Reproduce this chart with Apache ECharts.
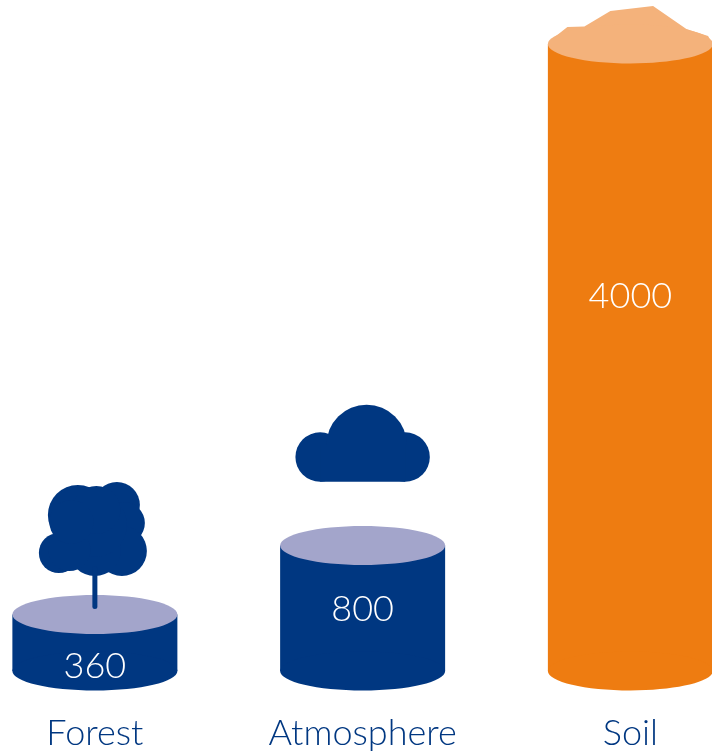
<!DOCTYPE html>
<html>
<head>
<meta charset="utf-8">
<style>html,body{margin:0;padding:0;background:#fff}#chart{width:712px;height:751px}</style>
<script src="https://cdn.jsdelivr.net/npm/echarts@6/dist/echarts.min.js"></script>
</head>
<body>
<div id="chart"></div>
<script>
// Carbon stocks, drawn as one cylinder per reservoir
const categories = ['Forest', 'Atmosphere', 'Soil'];
const stocks = [360, 800, 4000];

const NAVY = '#003781';
const LAVENDER = '#A3A5CB';
const ORANGE = '#EE7C11';
const SAND = '#F4B27B';
const FONT = 'Lato, "Open Sans", sans-serif';

const bodyColors = [NAVY, NAVY, ORANGE];
const capColors = [LAVENDER, LAVENDER, SAND];
const RX = 82.5, RY = 19.5;

// Heights above the base line where each value sits inside its cylinder
const valueLift = [5, 62, 375];

// Decorations placed relative to the foot of their cylinder
function treeShapes(x, base) {
  const blobs = [[22, -166, 23], [-17, -156, 30], [29, -148, 21], [27, -120, 25],
                 [-36, -118, 20], [0, -121, 26], [0, -146, 32],
                 [1.5, -161, 24], [-25.5, -121, 21], [-23.5, -149, 22]];
  const shapes = blobs.map(b => ({
    type: 'circle', shape: {cx: x + b[0], cy: base + b[1], r: b[2]}, style: {fill: NAVY}
  }));
  shapes.push({
    type: 'rect', shape: {x: x - 2.5, y: base - 105, width: 5, height: 43, r: 2.5}, style: {fill: NAVY}
  });
  return shapes;
}

function cloudShapes(x, base) {
  return [
    {type: 'circle', shape: {cx: x - 42.5, cy: base - 214, r: 24.7}, style: {fill: NAVY}},
    {type: 'circle', shape: {cx: x + 42.5, cy: base - 214, r: 24.7}, style: {fill: NAVY}},
    {type: 'sector', shape: {cx: x + 4, cy: base - 226, r: 40.2, startAngle: Math.PI, endAngle: 2 * Math.PI}, style: {fill: NAVY}},
    {type: 'rect', shape: {x: x - 42.5, y: base - 226, width: 85, height: 36.7}, style: {fill: NAVY}}
  ];
}

function moundShape(x, top) {
  const outline = [[-82, -2], [-63, -17], [-46, -17.3], [-20, -33], [22.7, -38],
                   [56, -15], [77.7, -8], [82, 0]];
  return {
    type: 'polygon',
    shape: {points: outline.map(p => [x + p[0], top + p[1]])},
    style: {fill: SAND}
  };
}

function renderCylinder(params, api) {
  const i = params.dataIndex;
  const head = api.coord([api.value(0), api.value(1)]);
  const foot = api.coord([api.value(0), 0]);
  const x = head[0], top = head[1], base = foot[1];
  const children = [
    {type: 'rect', shape: {x: x - RX, y: top, width: RX * 2, height: base - top}, style: {fill: bodyColors[i]}},
    {type: 'ellipse', shape: {cx: x, cy: base, rx: RX, ry: RY}, style: {fill: bodyColors[i]}}
  ];
  if (i === 2) children.push(moundShape(x, top));
  children.push({type: 'ellipse', shape: {cx: x, cy: top, rx: RX, ry: RY}, style: {fill: capColors[i]}});
  if (i === 0) children.push(...treeShapes(x, base));
  if (i === 1) children.push(...cloudShapes(x, base));
  children.push({
    type: 'text',
    style: {
      x: x, y: base - valueLift[i], text: String(api.value(1)),
      fill: '#fff', font: '300 36px ' + FONT, align: 'center', verticalAlign: 'middle'
    }
  });
  return {type: 'group', children};
}

const chart = echarts.init(document.getElementById('chart'), null, {renderer: 'canvas'});
chart.setOption({
  animation: false,
  backgroundColor: '#fff',
  grid: {left: -39, right: -52.25, top: 0, bottom: 80, outerBoundsMode: 'none'},
  xAxis: {
    type: 'category',
    data: categories,
    axisLine: {show: false},
    axisTick: {show: false},
    axisLabel: {color: NAVY, fontFamily: FONT, fontWeight: 300, fontSize: 36, margin: 44, interval: 0}
  },
  yAxis: {type: 'value', min: 0, max: 4280, show: false},
  series: [{
    type: 'custom',
    renderItem: renderCylinder,
    encode: {x: 0, y: 1},
    data: stocks.map((v, i) => [i, v])
  }]
});
</script>
</body>
</html>
